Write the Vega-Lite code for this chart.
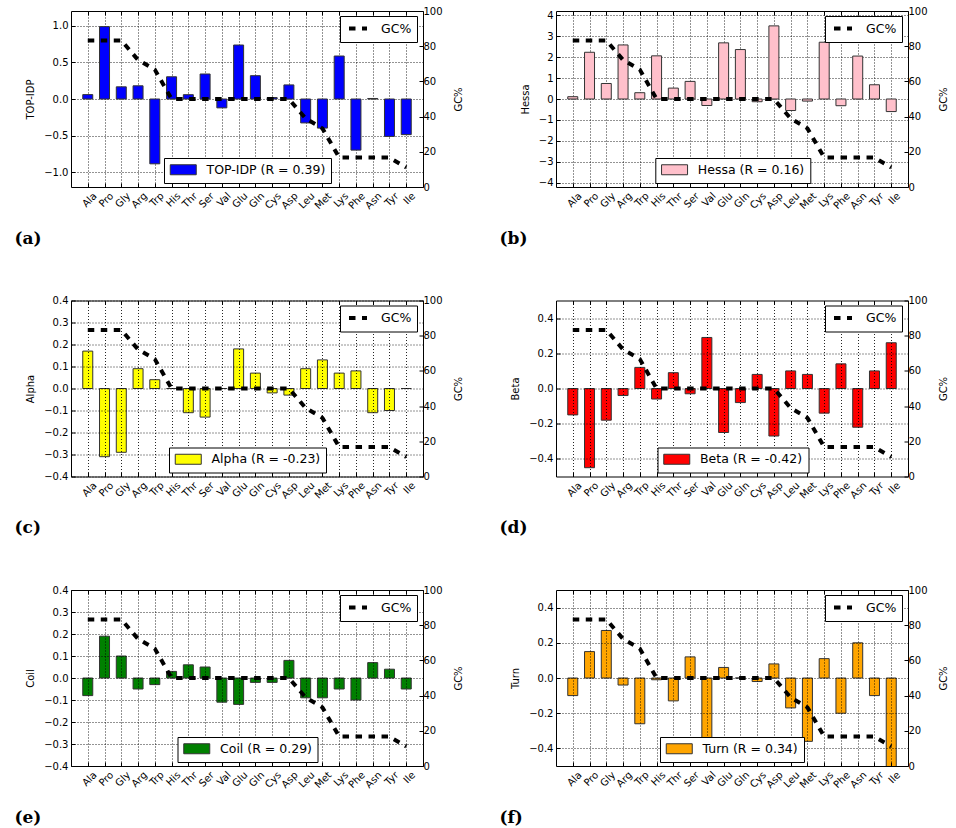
{
  "$schema": "https://vega.github.io/schema/vega-lite/v6.json",
  "padding": {"left": 13, "top": 5, "right": 5, "bottom": 5},
  "background": "white",
  "datasets": {
    "aa": [
      {"aa": "Ala", "gc": 83.3, "topidp": 0.06, "hessa": 0.11, "alpha": 0.17, "beta": -0.15, "coil": -0.08, "turn": -0.10},
      {"aa": "Pro", "gc": 83.3, "topidp": 0.987, "hessa": 2.23, "alpha": -0.31, "beta": -0.45, "coil": 0.19, "turn": 0.15},
      {"aa": "Gly", "gc": 83.3, "topidp": 0.166, "hessa": 0.74, "alpha": -0.29, "beta": -0.18, "coil": 0.10, "turn": 0.27},
      {"aa": "Arg", "gc": 72.2, "topidp": 0.180, "hessa": 2.58, "alpha": 0.09, "beta": -0.04, "coil": -0.05, "turn": -0.04},
      {"aa": "Trp", "gc": 66.7, "topidp": -0.884, "hessa": 0.30, "alpha": 0.04, "beta": 0.12, "coil": -0.03, "turn": -0.26},
      {"aa": "His", "gc": 50, "topidp": 0.303, "hessa": 2.06, "alpha": 0.0, "beta": -0.06, "coil": 0.03, "turn": -0.01},
      {"aa": "Thr", "gc": 50, "topidp": 0.059, "hessa": 0.52, "alpha": -0.11, "beta": 0.09, "coil": 0.06, "turn": -0.13},
      {"aa": "Ser", "gc": 50, "topidp": 0.341, "hessa": 0.84, "alpha": -0.13, "beta": -0.03, "coil": 0.05, "turn": 0.12},
      {"aa": "Val", "gc": 50, "topidp": -0.121, "hessa": -0.31, "alpha": 0.0, "beta": 0.29, "coil": -0.11, "turn": -0.42},
      {"aa": "Glu", "gc": 50, "topidp": 0.736, "hessa": 2.68, "alpha": 0.18, "beta": -0.25, "coil": -0.12, "turn": 0.06},
      {"aa": "Gln", "gc": 50, "topidp": 0.318, "hessa": 2.36, "alpha": 0.07, "beta": -0.08, "coil": -0.02, "turn": 0.0},
      {"aa": "Cys", "gc": 50, "topidp": 0.02, "hessa": -0.13, "alpha": -0.02, "beta": 0.08, "coil": -0.02, "turn": -0.02},
      {"aa": "Asp", "gc": 50, "topidp": 0.192, "hessa": 3.49, "alpha": -0.03, "beta": -0.27, "coil": 0.08, "turn": 0.08},
      {"aa": "Leu", "gc": 38.9, "topidp": -0.326, "hessa": -0.55, "alpha": 0.09, "beta": 0.10, "coil": -0.09, "turn": -0.17},
      {"aa": "Met", "gc": 33.3, "topidp": -0.397, "hessa": -0.10, "alpha": 0.13, "beta": 0.08, "coil": -0.09, "turn": -0.36},
      {"aa": "Lys", "gc": 16.7, "topidp": 0.586, "hessa": 2.71, "alpha": 0.07, "beta": -0.14, "coil": -0.05, "turn": 0.11},
      {"aa": "Phe", "gc": 16.7, "topidp": -0.697, "hessa": -0.32, "alpha": 0.08, "beta": 0.14, "coil": -0.10, "turn": -0.20},
      {"aa": "Asn", "gc": 16.7, "topidp": 0.007, "hessa": 2.05, "alpha": -0.11, "beta": -0.22, "coil": 0.07, "turn": 0.20},
      {"aa": "Tyr", "gc": 16.7, "topidp": -0.510, "hessa": 0.68, "alpha": -0.10, "beta": 0.10, "coil": 0.04, "turn": -0.10},
      {"aa": "Ile", "gc": 11.1, "topidp": -0.486, "hessa": -0.60, "alpha": 0.0, "beta": 0.26, "coil": -0.05, "turn": -0.60}
    ]
  },
  "columns": 2,
  "spacing": {"row": 113.5, "column": 133},
  "bounds": "flush",
  "resolve": {"scale": {"fill": "independent", "strokeDash": "independent"}, "legend": {"fill": "independent", "strokeDash": "independent"}},
  "concat": [
    {
      "width": 352, "height": 176, "data": {"name": "aa"},
      "layer": [
        {"mark": {"type": "bar", "width": 10, "stroke": "#333", "strokeWidth": 1, "clip": true},
         "encoding": {
           "x": {"field": "aa", "type": "nominal", "sort": null, "scale": {"type": "point", "padding": 1},
                 "axis": {"orient": "bottom", "grid": true, "labelAngle": -45, "labelAlign": "right", "labelBaseline": "middle", "labelOffset": 7, "labelPadding": 11, "title": "(a)", "titleFont": "DejaVu Serif", "titleFontSize": 17, "titleFontWeight": "bold", "titleAlign": "left", "titleBaseline": "middle", "titleX": -57, "titleY": 51, "zindex": 0}},
           "y": {"field": "topidp", "type": "quantitative", "scale": {"domain": [-1.2, 1.2], "nice": false, "zero": false},
                 "axis": {"orient": "left", "values": [-1, -0.5, 0, 0.5, 1], "format": ".1f", "grid": true, "title": "TOP-IDP", "labelPadding": 7, "titlePadding": 8, "zindex": 0}},
           "fill": {"datum": "TOP-IDP (R = 0.39)", "scale": {"range": ["#0000ff"]},
                    "legend": {"orient": "none", "legendX": 93, "legendY": 147, "title": null, "symbolType": "M-2.6,-1H2.6V1H-2.6Z", "symbolSize": 100, "symbolOffset": 7.5, "symbolStrokeColor": "#333", "symbolStrokeWidth": 1, "labelOffset": 17, "zindex": 2}}
         }},
        {"mark": {"type": "line", "stroke": "black", "strokeWidth": 4, "strokeCap": "butt"},
         "encoding": {
           "x": {"field": "aa", "type": "nominal", "sort": null, "scale": {"type": "point", "padding": 1}, "axis": {"orient": "top", "labels": false, "grid": false, "title": null}},
           "y": {"field": "gc", "type": "quantitative", "scale": {"domain": [0, 100], "nice": false}, "axis": {"orient": "right", "values": [0, 20, 40, 60, 80, 100], "grid": false, "title": "GC%", "titleAngle": 270, "labelPadding": 4, "titlePadding": 21}},
           "strokeDash": {"datum": "GC%", "scale": {"range": [[6.5, 6.5]]},
                          "legend": {"orient": "none", "legendX": 269, "legendY": 5, "title": null, "symbolType": "M-1.8,0H1.8", "symbolSize": 100, "symbolOffset": 5.5, "symbolStrokeColor": "black", "symbolStrokeWidth": 4, "symbolFillColor": "transparent", "labelOffset": 16, "zindex": 2}}
         }}
      ],
      "resolve": {"scale": {"y": "independent"}, "axis": {"x": "independent"}}
    },
    {
      "width": 352, "height": 176, "data": {"name": "aa"},
      "layer": [
        {"mark": {"type": "bar", "width": 10, "stroke": "#333", "strokeWidth": 1, "clip": true},
         "encoding": {
           "x": {"field": "aa", "type": "nominal", "sort": null, "scale": {"type": "point", "padding": 1},
                 "axis": {"orient": "bottom", "grid": true, "labelAngle": -45, "labelAlign": "right", "labelBaseline": "middle", "labelOffset": 7, "labelPadding": 11, "title": "(b)", "titleFont": "DejaVu Serif", "titleFontSize": 17, "titleFontWeight": "bold", "titleAlign": "left", "titleBaseline": "middle", "titleX": -57, "titleY": 51, "zindex": 0}},
           "y": {"field": "hessa", "type": "quantitative", "scale": {"domain": [-4.2, 4.2], "nice": false, "zero": false},
                 "axis": {"orient": "left", "values": [-4, -3, -2, -1, 0, 1, 2, 3, 4], "format": "d", "grid": true, "title": "Hessa", "labelPadding": 7, "titlePadding": 8, "zindex": 0}},
           "fill": {"datum": "Hessa (R = 0.16)", "scale": {"range": ["#ffc0cb"]},
                    "legend": {"orient": "none", "legendX": 99.3, "legendY": 147, "title": null, "symbolType": "M-2.6,-1H2.6V1H-2.6Z", "symbolSize": 100, "symbolOffset": 7.5, "symbolStrokeColor": "#333", "symbolStrokeWidth": 1, "labelOffset": 17, "zindex": 2}}
         }},
        {"mark": {"type": "line", "stroke": "black", "strokeWidth": 4, "strokeCap": "butt"},
         "encoding": {
           "x": {"field": "aa", "type": "nominal", "sort": null, "scale": {"type": "point", "padding": 1}, "axis": {"orient": "top", "labels": false, "grid": false, "title": null}},
           "y": {"field": "gc", "type": "quantitative", "scale": {"domain": [0, 100], "nice": false}, "axis": {"orient": "right", "values": [0, 20, 40, 60, 80, 100], "grid": false, "title": "GC%", "titleAngle": 270, "labelPadding": 4, "titlePadding": 21}},
           "strokeDash": {"datum": "GC%", "scale": {"range": [[6.5, 6.5]]},
                          "legend": {"orient": "none", "legendX": 269, "legendY": 5, "title": null, "symbolType": "M-1.8,0H1.8", "symbolSize": 100, "symbolOffset": 5.5, "symbolStrokeColor": "black", "symbolStrokeWidth": 4, "symbolFillColor": "transparent", "labelOffset": 16, "zindex": 2}}
         }}
      ],
      "resolve": {"scale": {"y": "independent"}, "axis": {"x": "independent"}}
    },
    {
      "width": 352, "height": 176, "data": {"name": "aa"},
      "layer": [
        {"mark": {"type": "bar", "width": 10, "stroke": "#333", "strokeWidth": 1, "clip": true},
         "encoding": {
           "x": {"field": "aa", "type": "nominal", "sort": null, "scale": {"type": "point", "padding": 1},
                 "axis": {"orient": "bottom", "grid": true, "labelAngle": -45, "labelAlign": "right", "labelBaseline": "middle", "labelOffset": 7, "labelPadding": 11, "title": "(c)", "titleFont": "DejaVu Serif", "titleFontSize": 17, "titleFontWeight": "bold", "titleAlign": "left", "titleBaseline": "middle", "titleX": -57, "titleY": 51, "zindex": 1}},
           "y": {"field": "alpha", "type": "quantitative", "scale": {"domain": [-0.4, 0.4], "nice": false, "zero": false},
                 "axis": {"orient": "left", "values": [-0.4, -0.3, -0.2, -0.1, 0, 0.1, 0.2, 0.3, 0.4], "format": ".1f", "grid": true, "title": "Alpha", "labelPadding": 7, "titlePadding": 8, "zindex": 1}},
           "fill": {"datum": "Alpha (R = -0.23)", "scale": {"range": ["#ffff00"]},
                    "legend": {"orient": "none", "legendX": 98, "legendY": 147, "title": null, "symbolType": "M-2.6,-1H2.6V1H-2.6Z", "symbolSize": 100, "symbolOffset": 7.5, "symbolStrokeColor": "#333", "symbolStrokeWidth": 1, "labelOffset": 17, "zindex": 2}}
         }},
        {"mark": {"type": "line", "stroke": "black", "strokeWidth": 4, "strokeCap": "butt"},
         "encoding": {
           "x": {"field": "aa", "type": "nominal", "sort": null, "scale": {"type": "point", "padding": 1}, "axis": {"orient": "top", "labels": false, "grid": false, "title": null}},
           "y": {"field": "gc", "type": "quantitative", "scale": {"domain": [0, 100], "nice": false}, "axis": {"orient": "right", "values": [0, 20, 40, 60, 80, 100], "grid": false, "title": "GC%", "titleAngle": 270, "labelPadding": 4, "titlePadding": 21}},
           "strokeDash": {"datum": "GC%", "scale": {"range": [[6.5, 6.5]]},
                          "legend": {"orient": "none", "legendX": 269, "legendY": 5, "title": null, "symbolType": "M-1.8,0H1.8", "symbolSize": 100, "symbolOffset": 5.5, "symbolStrokeColor": "black", "symbolStrokeWidth": 4, "symbolFillColor": "transparent", "labelOffset": 16, "zindex": 2}}
         }}
      ],
      "resolve": {"scale": {"y": "independent"}, "axis": {"x": "independent"}}
    },
    {
      "width": 352, "height": 176, "data": {"name": "aa"},
      "layer": [
        {"mark": {"type": "bar", "width": 10, "stroke": "#333", "strokeWidth": 1, "clip": true},
         "encoding": {
           "x": {"field": "aa", "type": "nominal", "sort": null, "scale": {"type": "point", "padding": 1},
                 "axis": {"orient": "bottom", "grid": true, "labelAngle": -45, "labelAlign": "right", "labelBaseline": "middle", "labelOffset": 7, "labelPadding": 11, "title": "(d)", "titleFont": "DejaVu Serif", "titleFontSize": 17, "titleFontWeight": "bold", "titleAlign": "left", "titleBaseline": "middle", "titleX": -57, "titleY": 51, "zindex": 1}},
           "y": {"field": "beta", "type": "quantitative", "scale": {"domain": [-0.5, 0.5], "nice": false, "zero": false},
                 "axis": {"orient": "left", "values": [-0.4, -0.2, 0, 0.2, 0.4], "format": ".1f", "grid": true, "title": "Beta", "labelPadding": 7, "titlePadding": 8, "zindex": 1}},
           "fill": {"datum": "Beta (R = -0.42)", "scale": {"range": ["#ff0000"]},
                    "legend": {"orient": "none", "legendX": 101.5, "legendY": 147, "title": null, "symbolType": "M-2.6,-1H2.6V1H-2.6Z", "symbolSize": 100, "symbolOffset": 7.5, "symbolStrokeColor": "#333", "symbolStrokeWidth": 1, "labelOffset": 17, "zindex": 2}}
         }},
        {"mark": {"type": "line", "stroke": "black", "strokeWidth": 4, "strokeCap": "butt"},
         "encoding": {
           "x": {"field": "aa", "type": "nominal", "sort": null, "scale": {"type": "point", "padding": 1}, "axis": {"orient": "top", "labels": false, "grid": false, "title": null}},
           "y": {"field": "gc", "type": "quantitative", "scale": {"domain": [0, 100], "nice": false}, "axis": {"orient": "right", "values": [0, 20, 40, 60, 80, 100], "grid": false, "title": "GC%", "titleAngle": 270, "labelPadding": 4, "titlePadding": 21}},
           "strokeDash": {"datum": "GC%", "scale": {"range": [[6.5, 6.5]]},
                          "legend": {"orient": "none", "legendX": 269, "legendY": 5, "title": null, "symbolType": "M-1.8,0H1.8", "symbolSize": 100, "symbolOffset": 5.5, "symbolStrokeColor": "black", "symbolStrokeWidth": 4, "symbolFillColor": "transparent", "labelOffset": 16, "zindex": 2}}
         }}
      ],
      "resolve": {"scale": {"y": "independent"}, "axis": {"x": "independent"}}
    },
    {
      "width": 352, "height": 176, "data": {"name": "aa"},
      "layer": [
        {"mark": {"type": "bar", "width": 10, "stroke": "#333", "strokeWidth": 1, "clip": true},
         "encoding": {
           "x": {"field": "aa", "type": "nominal", "sort": null, "scale": {"type": "point", "padding": 1},
                 "axis": {"orient": "bottom", "grid": true, "labelAngle": -45, "labelAlign": "right", "labelBaseline": "middle", "labelOffset": 7, "labelPadding": 11, "title": "(e)", "titleFont": "DejaVu Serif", "titleFontSize": 17, "titleFontWeight": "bold", "titleAlign": "left", "titleBaseline": "middle", "titleX": -57, "titleY": 51, "zindex": 1}},
           "y": {"field": "coil", "type": "quantitative", "scale": {"domain": [-0.4, 0.4], "nice": false, "zero": false},
                 "axis": {"orient": "left", "values": [-0.4, -0.3, -0.2, -0.1, 0, 0.1, 0.2, 0.3, 0.4], "format": ".1f", "grid": true, "title": "Coil", "labelPadding": 7, "titlePadding": 8, "zindex": 1}},
           "fill": {"datum": "Coil (R = 0.29)", "scale": {"range": ["#008000"]},
                    "legend": {"orient": "none", "legendX": 106.5, "legendY": 147, "title": null, "symbolType": "M-2.6,-1H2.6V1H-2.6Z", "symbolSize": 100, "symbolOffset": 7.5, "symbolStrokeColor": "#333", "symbolStrokeWidth": 1, "labelOffset": 17, "zindex": 2}}
         }},
        {"mark": {"type": "line", "stroke": "black", "strokeWidth": 4, "strokeCap": "butt"},
         "encoding": {
           "x": {"field": "aa", "type": "nominal", "sort": null, "scale": {"type": "point", "padding": 1}, "axis": {"orient": "top", "labels": false, "grid": false, "title": null}},
           "y": {"field": "gc", "type": "quantitative", "scale": {"domain": [0, 100], "nice": false}, "axis": {"orient": "right", "values": [0, 20, 40, 60, 80, 100], "grid": false, "title": "GC%", "titleAngle": 270, "labelPadding": 4, "titlePadding": 21}},
           "strokeDash": {"datum": "GC%", "scale": {"range": [[6.5, 6.5]]},
                          "legend": {"orient": "none", "legendX": 269, "legendY": 5, "title": null, "symbolType": "M-1.8,0H1.8", "symbolSize": 100, "symbolOffset": 5.5, "symbolStrokeColor": "black", "symbolStrokeWidth": 4, "symbolFillColor": "transparent", "labelOffset": 16, "zindex": 2}}
         }}
      ],
      "resolve": {"scale": {"y": "independent"}, "axis": {"x": "independent"}}
    },
    {
      "width": 352, "height": 176, "data": {"name": "aa"},
      "layer": [
        {"mark": {"type": "bar", "width": 10, "stroke": "#333", "strokeWidth": 1, "clip": true},
         "encoding": {
           "x": {"field": "aa", "type": "nominal", "sort": null, "scale": {"type": "point", "padding": 1},
                 "axis": {"orient": "bottom", "grid": true, "labelAngle": -45, "labelAlign": "right", "labelBaseline": "middle", "labelOffset": 7, "labelPadding": 11, "title": "(f)", "titleFont": "DejaVu Serif", "titleFontSize": 17, "titleFontWeight": "bold", "titleAlign": "left", "titleBaseline": "middle", "titleX": -57, "titleY": 51, "zindex": 1}},
           "y": {"field": "turn", "type": "quantitative", "scale": {"domain": [-0.5, 0.5], "nice": false, "zero": false},
                 "axis": {"orient": "left", "values": [-0.4, -0.2, 0, 0.2, 0.4], "format": ".1f", "grid": true, "title": "Turn", "labelPadding": 7, "titlePadding": 8, "zindex": 1}},
           "fill": {"datum": "Turn (R = 0.34)", "scale": {"range": ["#ffa500"]},
                    "legend": {"orient": "none", "legendX": 104, "legendY": 147, "title": null, "symbolType": "M-2.6,-1H2.6V1H-2.6Z", "symbolSize": 100, "symbolOffset": 7.5, "symbolStrokeColor": "#333", "symbolStrokeWidth": 1, "labelOffset": 17, "zindex": 2}}
         }},
        {"mark": {"type": "line", "stroke": "black", "strokeWidth": 4, "strokeCap": "butt"},
         "encoding": {
           "x": {"field": "aa", "type": "nominal", "sort": null, "scale": {"type": "point", "padding": 1}, "axis": {"orient": "top", "labels": false, "grid": false, "title": null}},
           "y": {"field": "gc", "type": "quantitative", "scale": {"domain": [0, 100], "nice": false}, "axis": {"orient": "right", "values": [0, 20, 40, 60, 80, 100], "grid": false, "title": "GC%", "titleAngle": 270, "labelPadding": 4, "titlePadding": 21}},
           "strokeDash": {"datum": "GC%", "scale": {"range": [[6.5, 6.5]]},
                          "legend": {"orient": "none", "legendX": 269, "legendY": 5, "title": null, "symbolType": "M-1.8,0H1.8", "symbolSize": 100, "symbolOffset": 5.5, "symbolStrokeColor": "black", "symbolStrokeWidth": 4, "symbolFillColor": "transparent", "labelOffset": 16, "zindex": 2}}
         }}
      ],
      "resolve": {"scale": {"y": "independent"}, "axis": {"x": "independent"}}
    }
  ],
  "config": {
    "view": {"stroke": "black", "strokeWidth": 1},
    "axis": {"labelFont": "DejaVu Sans", "labelFontSize": 10, "labelColor": "black", "titleFont": "DejaVu Sans", "titleFontSize": 10, "titleFontWeight": "normal", "titleColor": "black", "tickColor": "black", "tickSize": -4, "domain": false, "gridColor": "black", "gridDash": [1, 2], "gridOpacity": 0.85},
    "legend": {"padding": 5.5, "strokeColor": "black", "fillColor": "white", "cornerRadius": 0, "labelFont": "DejaVu Sans", "labelFontSize": 12.5, "labelColor": "black"}
  }
}
